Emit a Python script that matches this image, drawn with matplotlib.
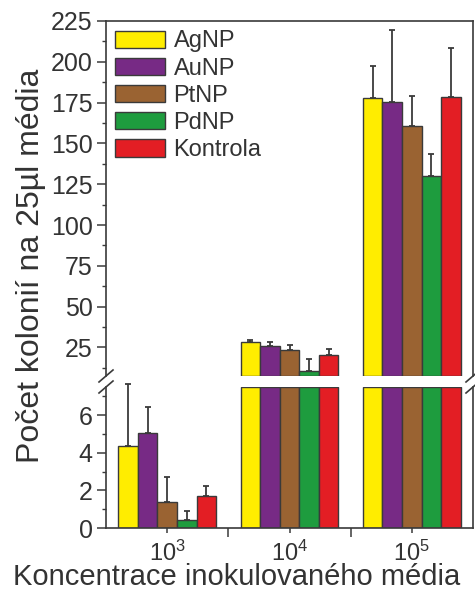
"""
Broken-axis bar chart: colony counts vs inoculum concentration
"""

import numpy as np
import matplotlib.pyplot as plt
from matplotlib.ticker import FixedLocator

plt.rcParams['font.family'] = ['Liberation Sans', 'DejaVu Sans']
plt.rcParams['mathtext.fontset'] = 'custom'
plt.rcParams['mathtext.rm'] = 'Liberation Sans'

# Data
concentrations = [r'$\mathregular{10^3}$', r'$\mathregular{10^4}$', r'$\mathregular{10^5}$']
series = ['AgNP', 'AuNP', 'PtNP', 'PdNP', 'Kontrola']
agnp = [4.35, 28.2, 177.7]
agnp_err = [3.33, 1.2, 20.0]
aunp = [5.05, 25.8, 175.3]
aunp_err = [1.4, 2.4, 44.0]
ptnp = [1.4, 23.2, 160.8]
ptnp_err = [1.3, 3.2, 18.3]
pdnp = [0.42, 10.5, 130.2]
pdnp_err = [0.48, 7.6, 13.5]
kontrola = [1.68, 20.1, 178.5]
kontrola_err = [0.56, 4.1, 30.0]

colors = ['#FFED00', '#772A85', '#9A6332', '#1E9C3E', '#E31E24']
BREAK = 7.5
DARK = '#3a3a3a'
TEXT = '#333333'

values = [agnp, aunp, ptnp, pdnp, kontrola]
errors = [agnp_err, aunp_err, ptnp_err, pdnp_err, kontrola_err]

W, H = 475, 592
fig = plt.figure(figsize=(W / 100, H / 100), dpi=100)
ax_top = fig.add_axes([106 / W, 1 - 376 / H, 367 / W, (376 - 21) / H])
ax_bot = fig.add_axes([106 / W, 1 - 528 / H, 367 / W, (528 - 387) / H])

x = np.arange(1, len(concentrations) + 1)
width = 0.16
bar_kw = dict(width=width, edgecolor=DARK, linewidth=1.0)
err_kw = dict(fmt='none', ecolor=DARK, elinewidth=1.3, capsize=2.5, capthick=1.3)

for i, (vals, errs, color, label) in enumerate(zip(values, errors, colors, series)):
    pos = x + (i - 2) * width
    vals = np.array(vals)
    errs = np.array(errs)
    high = vals > BREAK

    # upper panel: part of the bars above the break
    ax_top.bar(pos[high], vals[high] - BREAK, bottom=BREAK, color=color, label=label, **bar_kw)
    ax_top.errorbar(pos[high], vals[high], yerr=[np.zeros(high.sum()), errs[high]], **err_kw)

    # lower panel: bars cut at the break
    ax_bot.bar(pos, np.minimum(vals, BREAK), color=color, **bar_kw)
    eb = ax_bot.errorbar(pos[~high], vals[~high], yerr=[np.zeros((~high).sum()), errs[~high]], **err_kw)
    for artist in eb.lines[1] + eb.lines[2]:
        artist.set_clip_on(False)

# axis limits and ticks
for ax in (ax_top, ax_bot):
    ax.set_xlim(0.5, 3.5)
    for sp in ax.spines.values():
        sp.set_color(DARK)
        sp.set_linewidth(1.2)
    ax.tick_params(axis='y', which='major', direction='out', length=6.5, width=1.1,
                   color=DARK, labelsize=18, labelcolor=TEXT, pad=3)
    ax.tick_params(axis='y', which='minor', direction='out', length=3.2, width=1.0, color=DARK)
    ax.tick_params(axis='y', right=False)

ax_top.set_ylim(BREAK, 225)
ax_top.yaxis.set_major_locator(FixedLocator(np.arange(25, 226, 25)))
ax_top.yaxis.set_minor_locator(FixedLocator(np.arange(12.5, 226, 25)))
ax_top.spines['bottom'].set_visible(False)
ax_top.tick_params(axis='x', which='both', bottom=False, labelbottom=False)

ax_bot.set_ylim(0, BREAK)
ax_bot.yaxis.set_major_locator(FixedLocator([0, 2, 4, 6]))
ax_bot.yaxis.set_minor_locator(FixedLocator([1, 3, 5, 7]))
ax_bot.spines['top'].set_visible(False)
ax_bot.xaxis.set_major_locator(FixedLocator([1.5, 2.5]))
ax_bot.xaxis.set_minor_locator(FixedLocator(list(x)))
ax_bot.set_xticklabels([])
ax_bot.set_xticklabels(concentrations, minor=True)
ax_bot.tick_params(axis='x', which='major', direction='out', length=6.5, width=1.1, color=DARK)
ax_bot.tick_params(axis='x', which='minor', direction='out', length=3.8, width=1.1, color=DARK,
                   labelsize=17, labelcolor=TEXT, pad=5)

# break marks on both spines
d = 7
for xs in (0, 1):
    for ax, y0 in ((ax_top, 0), (ax_bot, 1)):
        bb = ax.get_position()
        px_w = bb.width * W
        px_h = bb.height * H
        ax.plot([xs - d / px_w, xs + d / px_w], [y0 - 6 / px_h, y0 + 6 / px_h],
                transform=ax.transAxes, color=DARK, lw=1.2, clip_on=False)

ax_top.legend(loc='upper left', bbox_to_anchor=(0.0, 1.0), frameon=False, fontsize=17,
              handlelength=2.08, handleheight=0.75, handletextpad=0.38, labelspacing=0.22,
              borderaxespad=0.2, borderpad=0.2, labelcolor=TEXT)

fig.text(31 / W, 1 - 266 / H, 'Počet kolonií na 25µl média', rotation=90,
         ha='center', va='center', fontsize=23, color=TEXT)
fig.text(237 / W, 1 - 585 / H, 'Koncentrace inokulovaného média',
         ha='center', va='baseline', fontsize=21, color=TEXT)

fig.savefig('out.png', dpi=100)
